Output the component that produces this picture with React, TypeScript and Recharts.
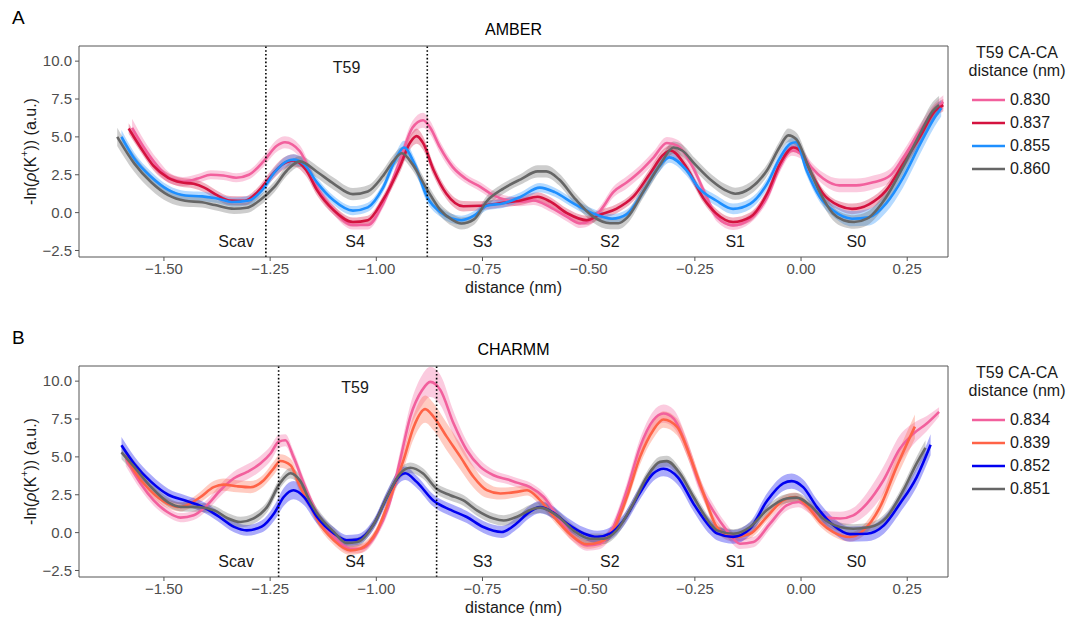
import React from "react";
import {
  Area,
  ComposedChart,
  Line,
  ReferenceDot,
  ReferenceLine,
  XAxis,
  YAxis,
} from "recharts";

const FONT = '"Liberation Sans", Arial, Helvetica, sans-serif';

// -------------------------
// axes / annotations
// -------------------------
const X_TICKS = [-1.5, -1.25, -1, -0.75, -0.5, -0.25, 0, 0.25];
const Y_TICKS = [-2.5, 0, 2.5, 5, 7.5, 10];
const X_DOMAIN: [number, number] = [-1.7, 0.346];
const Y_DOMAIN: [number, number] = [-2.93, 11];

const SITE_LABELS = ["Scav", "S4", "S3", "S2", "S1", "S0"];
const SITE_X = [-1.33, -1.05, -0.75, -0.45, -0.155, 0.13];
const SITE_Y = -1.88;

const AMBER_CUTS = [-1.26, -0.88];
const CHARMM_CUTS = [-1.23, -0.858];
const AMBER_T59 = [-1.07, 9.6];
const CHARMM_T59 = [-1.05, 9.6];

const AMBER_LABELS = ["0.830", "0.837", "0.855", "0.860"];
const CHARMM_LABELS = ["0.834", "0.839", "0.852", "0.851"];

// -------------------------
// AMBER curves (x, mean, half-width of band)
// -------------------------
const amberPinkX = [-1.575, -1.547, -1.516, -1.485, -1.455, -1.42, -1.39, -1.36, -1.33, -1.3, -1.265, -1.235, -1.215, -1.18, -1.14, -1.1, -1.055, -1.02, -0.985, -0.945, -0.915, -0.89, -0.873, -0.85, -0.82, -0.79, -0.755, -0.725, -0.69, -0.66, -0.63, -0.59, -0.55, -0.52, -0.495, -0.472, -0.442, -0.41, -0.38, -0.347, -0.316, -0.29, -0.255, -0.225, -0.198, -0.16, -0.12, -0.08, -0.05, -0.022, 0, 0.024, 0.052, 0.09, 0.13, 0.17, 0.21, 0.24, 0.28, 0.315, 0.335];
const amberPinkY = [5.6, 4.3, 3.1, 2.25, 2.05, 2.25, 2.5, 2.45, 2.3, 2.5, 3.4, 4.4, 4.65, 4.05, 1.7, 0.15, -0.82, -0.82, 0.55, 3.4, 5.6, 6.1, 5.6, 4.3, 3.0, 2.25, 1.7, 1.15, 0.8, 0.72, 0.8, 0.35, -0.3, -0.72, -0.5, 0.15, 1.35, 2.0, 2.7, 3.65, 4.6, 4.4, 3.0, 1.2, -0.3, -0.84, -0.4, 1.0, 3.0, 4.1, 3.9, 3.0, 2.25, 1.8, 1.8, 2.0, 2.45, 3.6, 5.4, 6.8, 7.3];
const amberPinkE = [0.6, 0.5, 0.45, 0.35, 0.3, 0.3, 0.3, 0.3, 0.3, 0.3, 0.35, 0.4, 0.4, 0.4, 0.35, 0.3, 0.3, 0.3, 0.3, 0.4, 0.45, 0.5, 0.45, 0.4, 0.35, 0.3, 0.3, 0.3, 0.3, 0.3, 0.3, 0.3, 0.3, 0.3, 0.3, 0.3, 0.35, 0.4, 0.4, 0.4, 0.4, 0.4, 0.35, 0.3, 0.3, 0.3, 0.3, 0.3, 0.35, 0.35, 0.35, 0.35, 0.4, 0.45, 0.45, 0.45, 0.45, 0.45, 0.45, 0.45, 0.45];

const amberRedX = [-1.583, -1.555, -1.525, -1.49, -1.46, -1.43, -1.405, -1.375, -1.345, -1.31, -1.28, -1.25, -1.22, -1.195, -1.165, -1.14, -1.1, -1.055, -1.02, -0.985, -0.945, -0.92, -0.905, -0.89, -0.865, -0.835, -0.795, -0.755, -0.71, -0.66, -0.62, -0.59, -0.55, -0.505, -0.475, -0.435, -0.395, -0.355, -0.325, -0.308, -0.27, -0.23, -0.2, -0.16, -0.12, -0.08, -0.05, -0.018, 0, 0.024, 0.052, 0.09, 0.12, 0.16, 0.2, 0.24, 0.28, 0.315, 0.335];
const amberRedY = [5.55, 4.3, 3.1, 2.3, 2.0, 1.9, 1.65, 1.15, 0.8, 0.78, 1.35, 2.35, 3.2, 3.45, 2.8, 1.5, 0.15, -0.62, -0.5, 0.8, 3.0, 4.65, 5.05, 4.6, 2.8, 1.25, 0.42, 0.45, 0.62, 0.8, 1.05, 0.72, -0.05, -0.5, -0.15, 0.25, 1.05, 2.6, 3.8, 4.1, 3.0, 0.95, -0.05, -0.62, -0.3, 1.25, 3.2, 4.3, 4.0, 2.6, 1.25, 0.45, 0.25, 0.55, 1.45, 3.2, 5.0, 6.7, 7.1];
const amberRedE = [0.35, 0.3, 0.3, 0.3, 0.3, 0.3, 0.3, 0.3, 0.3, 0.3, 0.3, 0.35, 0.4, 0.4, 0.4, 0.35, 0.3, 0.3, 0.3, 0.3, 0.4, 0.45, 0.5, 0.45, 0.4, 0.35, 0.35, 0.3, 0.3, 0.3, 0.3, 0.3, 0.3, 0.3, 0.3, 0.3, 0.3, 0.35, 0.35, 0.35, 0.35, 0.3, 0.3, 0.3, 0.3, 0.3, 0.3, 0.3, 0.3, 0.3, 0.3, 0.3, 0.35, 0.35, 0.35, 0.35, 0.4, 0.4, 0.4];

const amberBlueX = [-1.6, -1.57, -1.53, -1.49, -1.45, -1.41, -1.375, -1.34, -1.3, -1.27, -1.24, -1.21, -1.195, -1.17, -1.14, -1.1, -1.055, -1.02, -0.985, -0.955, -0.935, -0.91, -0.88, -0.85, -0.8, -0.77, -0.74, -0.7, -0.66, -0.615, -0.58, -0.535, -0.49, -0.445, -0.41, -0.37, -0.335, -0.31, -0.27, -0.24, -0.2, -0.16, -0.12, -0.08, -0.05, -0.025, -0.012, 0.013, 0.045, 0.075, 0.12, 0.16, 0.2, 0.24, 0.28, 0.315, 0.33];
const amberBlueY = [5.0, 3.57, 2.35, 1.5, 1.13, 1.07, 0.93, 0.7, 0.8, 1.45, 2.65, 3.4, 3.5, 3.2, 2.0, 0.8, 0.13, 0.35, 1.6, 3.5, 4.3, 3.2, 1.0, 0.05, -0.5, -0.2, 0.45, 0.62, 1.05, 1.65, 1.35, 0.6, -0.05, -0.4, -0.1, 1.45, 3.0, 3.65, 2.8, 1.6, 0.8, 0.25, 0.58, 1.9, 3.6, 4.55, 4.65, 2.8, 1.0, 0.15, -0.4, -0.3, 0.6, 2.3, 4.5, 6.3, 6.9];
const amberBlueE = [0.45, 0.4, 0.35, 0.3, 0.3, 0.3, 0.3, 0.3, 0.3, 0.3, 0.3, 0.35, 0.35, 0.35, 0.3, 0.3, 0.3, 0.3, 0.3, 0.4, 0.45, 0.4, 0.35, 0.3, 0.3, 0.3, 0.3, 0.3, 0.3, 0.3, 0.3, 0.3, 0.3, 0.3, 0.3, 0.3, 0.35, 0.35, 0.35, 0.3, 0.35, 0.35, 0.35, 0.35, 0.35, 0.35, 0.35, 0.35, 0.35, 0.4, 0.5, 0.55, 0.6, 0.65, 0.65, 0.6, 0.55];

const amberGrayX = [-1.61, -1.57, -1.53, -1.49, -1.45, -1.41, -1.38, -1.335, -1.305, -1.275, -1.24, -1.21, -1.18, -1.14, -1.1, -1.055, -1.02, -0.985, -0.96, -0.94, -0.915, -0.88, -0.85, -0.82, -0.8, -0.77, -0.74, -0.7, -0.66, -0.62, -0.6, -0.57, -0.53, -0.49, -0.45, -0.43, -0.41, -0.37, -0.33, -0.3, -0.28, -0.25, -0.21, -0.18, -0.155, -0.12, -0.08, -0.05, -0.03, -0.01, 0.015, 0.045, 0.075, 0.1, 0.125, 0.155, 0.2, 0.24, 0.28, 0.31, 0.325];
const amberGrayY = [5.0, 3.25, 2.0, 1.15, 0.78, 0.68, 0.5, 0.26, 0.32, 0.8, 1.7, 2.8, 3.38, 2.7, 1.9, 1.22, 1.4, 2.4, 3.4, 3.92, 3.2, 1.5, 0.2, -0.5, -0.72, -0.45, 0.75, 1.6, 2.2, 2.72, 2.72, 2.2, 0.85, -0.25, -0.7, -0.7, -0.35, 1.45, 3.25, 4.3, 4.1, 3.2, 2.1, 1.5, 1.25, 1.6, 2.8, 4.35, 5.1, 4.8, 3.2, 1.3, -0.05, -0.5, -0.62, -0.4, 1.0, 3.0, 5.2, 6.7, 7.1];
const amberGrayE = [0.6, 0.55, 0.5, 0.45, 0.4, 0.35, 0.35, 0.35, 0.35, 0.35, 0.35, 0.35, 0.35, 0.4, 0.4, 0.4, 0.4, 0.4, 0.4, 0.4, 0.4, 0.4, 0.4, 0.4, 0.4, 0.35, 0.35, 0.35, 0.35, 0.4, 0.4, 0.4, 0.4, 0.4, 0.4, 0.4, 0.4, 0.4, 0.4, 0.4, 0.4, 0.4, 0.4, 0.4, 0.4, 0.4, 0.4, 0.4, 0.45, 0.45, 0.45, 0.45, 0.45, 0.45, 0.45, 0.45, 0.45, 0.5, 0.55, 0.6, 0.6];

// -------------------------
// CHARMM curves
// -------------------------
const charmmPinkX = [-1.59, -1.555, -1.524, -1.492, -1.461, -1.43, -1.399, -1.367, -1.336, -1.304, -1.273, -1.249, -1.23, -1.214, -1.195, -1.17, -1.14, -1.1, -1.061, -1.038, -0.998, -0.967, -0.944, -0.92, -0.892, -0.873, -0.849, -0.818, -0.787, -0.755, -0.724, -0.69, -0.669, -0.638, -0.606, -0.567, -0.536, -0.504, -0.473, -0.442, -0.41, -0.379, -0.348, -0.324, -0.3, -0.269, -0.238, -0.206, -0.175, -0.144, -0.112, -0.073, -0.034, -0.006, 0.021, 0.052, 0.092, 0.123, 0.155, 0.194, 0.233, 0.265, 0.296, 0.325];
const charmmPinkY = [4.9, 3.24, 2.13, 1.36, 0.99, 1.14, 1.8, 2.8, 3.57, 4.01, 4.56, 5.22, 6.0, 6.1, 5.0, 3.2, 1.3, -0.29, -1.06, -1.06, 0.04, 2.13, 4.78, 7.64, 9.41, 9.95, 9.41, 7.2, 5.44, 4.34, 3.79, 3.5, 3.3, 3.01, 2.35, 0.81, -0.29, -0.84, -0.73, 0.37, 2.8, 5.66, 7.42, 7.86, 7.53, 5.66, 3.1, 1.4, 0.15, -0.73, -0.62, 0.59, 1.8, 2.02, 1.59, 1.03, 0.93, 1.14, 1.92, 3.46, 5.55, 6.54, 7.2, 7.97];
const charmmPinkE = [0.5, 0.4, 0.35, 0.3, 0.3, 0.3, 0.35, 0.4, 0.45, 0.5, 0.5, 0.5, 0.45, 0.4, 0.4, 0.35, 0.3, 0.3, 0.3, 0.3, 0.3, 0.4, 0.6, 0.8, 1.0, 1.0, 1.0, 0.8, 0.6, 0.45, 0.35, 0.3, 0.3, 0.3, 0.3, 0.35, 0.35, 0.35, 0.35, 0.4, 0.5, 0.55, 0.6, 0.6, 0.6, 0.55, 0.5, 0.45, 0.4, 0.35, 0.35, 0.35, 0.35, 0.35, 0.35, 0.4, 0.45, 0.5, 0.7, 0.9, 0.9, 0.7, 0.5, 0.3];

const charmmTomatoX = [-1.591, -1.571, -1.533, -1.492, -1.461, -1.438, -1.414, -1.383, -1.359, -1.328, -1.296, -1.265, -1.242, -1.226, -1.202, -1.179, -1.155, -1.14, -1.1, -1.061, -1.038, -0.998, -0.967, -0.936, -0.912, -0.885, -0.865, -0.834, -0.802, -0.771, -0.74, -0.708, -0.669, -0.645, -0.614, -0.575, -0.536, -0.504, -0.473, -0.442, -0.41, -0.379, -0.348, -0.324, -0.292, -0.261, -0.23, -0.198, -0.159, -0.12, -0.081, -0.042, -0.014, 0.013, 0.045, 0.076, 0.115, 0.147, 0.186, 0.225, 0.268];
const charmmTomatoY = [5.1, 4.12, 2.8, 1.92, 1.69, 1.92, 2.35, 3.0, 3.17, 3.06, 3.0, 3.46, 4.23, 4.73, 4.45, 3.0, 1.8, 0.9, -0.51, -1.17, -1.06, 0.15, 2.35, 4.78, 6.98, 8.15, 7.64, 6.32, 5.0, 3.67, 2.8, 2.58, 2.69, 2.8, 2.13, 0.81, -0.29, -0.77, -0.62, 0.15, 2.35, 5.0, 6.76, 7.47, 6.98, 5.0, 2.6, 0.37, -0.29, -0.07, 1.03, 2.13, 2.35, 1.8, 0.7, 0.04, -0.29, 0.15, 1.69, 4.34, 7.0];
const charmmTomatoE = [0.4, 0.35, 0.3, 0.3, 0.3, 0.3, 0.35, 0.4, 0.4, 0.4, 0.4, 0.4, 0.45, 0.45, 0.45, 0.4, 0.35, 0.3, 0.3, 0.3, 0.3, 0.3, 0.4, 0.6, 0.8, 0.9, 0.9, 0.9, 0.85, 0.7, 0.5, 0.4, 0.35, 0.35, 0.35, 0.3, 0.3, 0.3, 0.3, 0.3, 0.4, 0.5, 0.55, 0.55, 0.55, 0.5, 0.4, 0.35, 0.3, 0.3, 0.3, 0.3, 0.3, 0.3, 0.3, 0.3, 0.3, 0.35, 0.5, 0.7, 0.8];

const charmmBlueX = [-1.6, -1.57, -1.53, -1.49, -1.45, -1.41, -1.375, -1.335, -1.305, -1.27, -1.24, -1.218, -1.195, -1.17, -1.14, -1.1, -1.07, -1.045, -1.005, -0.975, -0.945, -0.932, -0.905, -0.865, -0.825, -0.787, -0.748, -0.705, -0.67, -0.64, -0.615, -0.585, -0.55, -0.51, -0.48, -0.45, -0.418, -0.38, -0.348, -0.324, -0.29, -0.253, -0.214, -0.198, -0.16, -0.12, -0.08, -0.042, -0.022, 0.005, 0.037, 0.076, 0.115, 0.155, 0.195, 0.233, 0.272, 0.305];
const charmmBlueY = [5.77, 4.55, 3.35, 2.5, 2.12, 1.72, 1.14, 0.38, 0.15, 0.4, 1.3, 2.35, 2.8, 2.35, 1.05, -0.05, -0.5, -0.46, 0.6, 2.35, 3.75, 3.92, 3.35, 2.1, 1.5, 1.03, 0.37, 0.04, 0.6, 1.35, 1.68, 1.35, 0.58, -0.07, -0.28, -0.07, 0.8, 2.6, 3.9, 4.22, 3.65, 1.9, 0.37, -0.05, -0.28, 0.26, 2.1, 3.25, 3.4, 3.0, 1.7, 0.48, -0.1, -0.07, 0.48, 1.92, 3.65, 5.8];
const charmmBlueE = [0.55, 0.5, 0.45, 0.4, 0.35, 0.35, 0.35, 0.35, 0.35, 0.4, 0.5, 0.6, 0.6, 0.55, 0.45, 0.4, 0.35, 0.35, 0.35, 0.4, 0.45, 0.45, 0.4, 0.4, 0.4, 0.4, 0.4, 0.4, 0.4, 0.4, 0.4, 0.4, 0.4, 0.4, 0.4, 0.4, 0.4, 0.45, 0.5, 0.5, 0.5, 0.5, 0.5, 0.45, 0.45, 0.45, 0.5, 0.5, 0.5, 0.5, 0.5, 0.5, 0.5, 0.5, 0.55, 0.6, 0.65, 0.7];

const charmmGrayX = [-1.6, -1.57, -1.53, -1.49, -1.46, -1.42, -1.38, -1.35, -1.32, -1.29, -1.257, -1.226, -1.202, -1.18, -1.155, -1.14, -1.1, -1.07, -1.045, -1.005, -0.975, -0.944, -0.92, -0.89, -0.858, -0.826, -0.795, -0.763, -0.724, -0.7, -0.67, -0.63, -0.614, -0.575, -0.536, -0.496, -0.465, -0.434, -0.395, -0.363, -0.332, -0.316, -0.285, -0.253, -0.214, -0.198, -0.159, -0.12, -0.081, -0.034, -0.01, 0.021, 0.052, 0.092, 0.123, 0.162, 0.202, 0.241, 0.272, 0.293];
const charmmGrayY = [5.3, 4.34, 3.0, 2.0, 1.7, 1.68, 1.45, 0.95, 0.7, 0.92, 1.7, 3.3, 3.92, 3.45, 2.0, 1.3, 0.05, -0.68, -0.62, 0.6, 2.35, 3.9, 4.28, 3.9, 2.9, 2.47, 2.13, 1.47, 0.93, 0.8, 1.03, 1.58, 1.65, 1.14, 0.15, -0.4, -0.4, 0.15, 1.92, 3.67, 4.67, 4.72, 3.9, 2.35, 0.6, 0.15, -0.07, 0.37, 1.47, 2.25, 2.31, 1.8, 0.93, 0.37, 0.26, 0.37, 1.03, 2.8, 4.56, 5.6];
const charmmGrayE = [0.45, 0.4, 0.35, 0.3, 0.3, 0.3, 0.3, 0.35, 0.35, 0.35, 0.35, 0.35, 0.35, 0.35, 0.35, 0.35, 0.3, 0.3, 0.3, 0.3, 0.35, 0.35, 0.35, 0.35, 0.35, 0.35, 0.35, 0.35, 0.35, 0.35, 0.35, 0.35, 0.35, 0.35, 0.35, 0.35, 0.35, 0.35, 0.35, 0.35, 0.35, 0.35, 0.35, 0.35, 0.35, 0.3, 0.3, 0.3, 0.3, 0.3, 0.3, 0.3, 0.3, 0.3, 0.3, 0.3, 0.35, 0.4, 0.45, 0.5];

type Series = {
  label: string;
  color: string;
  xs: number[];
  ys: number[];
  es: number[];
};

const amberSeries: Series[] = [
  { label: AMBER_LABELS[0], color: "#F2609D", xs: amberPinkX, ys: amberPinkY, es: amberPinkE },
  { label: AMBER_LABELS[1], color: "#D4123F", xs: amberRedX, ys: amberRedY, es: amberRedE },
  { label: AMBER_LABELS[2], color: "#1E8FFF", xs: amberBlueX, ys: amberBlueY, es: amberBlueE },
  { label: AMBER_LABELS[3], color: "#666666", xs: amberGrayX, ys: amberGrayY, es: amberGrayE },
];

const charmmSeries: Series[] = [
  { label: CHARMM_LABELS[0], color: "#F2609D", xs: charmmPinkX, ys: charmmPinkY, es: charmmPinkE },
  { label: CHARMM_LABELS[1], color: "#FF6347", xs: charmmTomatoX, ys: charmmTomatoY, es: charmmTomatoE },
  { label: CHARMM_LABELS[2], color: "#0000F0", xs: charmmBlueX, ys: charmmBlueY, es: charmmBlueE },
  { label: CHARMM_LABELS[3], color: "#666666", xs: charmmGrayX, ys: charmmGrayY, es: charmmGrayE },
];

function rows(s: Series) {
  return s.xs.map((x, i) => ({
    x,
    y: s.ys[i],
    band: [s.ys[i] - s.es[i], s.ys[i] + s.es[i]],
  }));
}

const fmt = (v: number, d: number) => v.toFixed(d).replace("-", "\u2212");

// -------------------------
// y axis title with italic rho + superscript
// -------------------------
function YTitle(props: any) {
  const vb = props.viewBox ?? { x: 0, y: 46, width: 79, height: 211 };
  const cx = vb.x + 30;
  const cy = vb.y + vb.height / 2;
  return (
    <text
      x={cx}
      y={cy}
      transform={`rotate(-90 ${cx} ${cy})`}
      textAnchor="middle"
      dominantBaseline="central"
      fontSize={16}
      fill="#1a1a1a"
    >
      -ln(
      <tspan fontStyle="italic">ρ</tspan>
      (K
      <tspan dy={-6} fontSize={10.5}>
        +
      </tspan>
      <tspan dy={6}>)) (a.u.)</tspan>
    </text>
  );
}

const textShape = (value: string) => (p: any) =>
  (
    <text
      x={p.cx}
      y={p.cy}
      textAnchor="middle"
      dominantBaseline="central"
      fontSize={16}
      fill="#1a1a1a"
    >
      {value}
    </text>
  );

function Panel({
  top,
  letter,
  title,
  series,
  cuts,
  t59,
}: {
  top: number;
  letter: string;
  title: string;
  series: Series[];
  cuts: number[];
  t59: number[];
}) {
  return (
    <div style={{ position: "absolute", left: 0, top, width: 1070, height: 299 }}>
      <div style={{ position: "absolute", left: 12, top: 7, fontSize: 19, lineHeight: "22px" }}>
        {letter}
      </div>
      <div
        style={{
          position: "absolute",
          left: 79,
          width: 869,
          top: 20,
          textAlign: "center",
          fontSize: 16,
          lineHeight: "20px",
        }}
      >
        {title}
      </div>

      <ComposedChart width={1070} height={299} margin={{ top: 46, right: 122, bottom: 0, left: 0 }}>
        <XAxis
          type="number"
          dataKey="x"
          domain={X_DOMAIN}
          ticks={X_TICKS}
          interval={0}
          tickFormatter={(v: number) => fmt(v, 2)}
          height={42}
          tickSize={4}
          tickMargin={2}
          axisLine={{ stroke: "#555" }}
          tickLine={{ stroke: "#555" }}
          tick={{ fontSize: 15, fill: "#4D4D4D" }}
          label={{ value: "distance (nm)", position: "insideBottom", offset: 6, fill: "#1a1a1a", fontSize: 16 }}
        />
        <YAxis
          type="number"
          domain={Y_DOMAIN}
          ticks={Y_TICKS}
          interval={0}
          tickFormatter={(v: number) => fmt(v, 1)}
          width={79}
          tickSize={4}
          tickMargin={3}
          axisLine={{ stroke: "#555" }}
          tickLine={{ stroke: "#555" }}
          tick={{ fontSize: 15, fill: "#4D4D4D" }}
          label={<YTitle />}
        />

        {series.map((s) => (
          <Area
            key={"band" + s.label}
            data={rows(s)}
            dataKey="band"
            type="monotone"
            stroke="none"
            fill={s.color}
            fillOpacity={0.33}
            isAnimationActive={false}
          />
        ))}
        {series.map((s) => (
          <Line
            key={"line" + s.label}
            data={rows(s)}
            dataKey="y"
            type="monotone"
            stroke={s.color}
            strokeWidth={2.6}
            dot={false}
            activeDot={false}
            isAnimationActive={false}
          />
        ))}

        {/* panel box: top and right edges */}
        <ReferenceLine y={Y_DOMAIN[1]} stroke="#555" strokeWidth={1} ifOverflow="extendDomain" />
        <ReferenceLine x={X_DOMAIN[1]} stroke="#555" strokeWidth={1} ifOverflow="extendDomain" />

        {cuts.map((c) => (
          <ReferenceLine key={c} x={c} stroke="#000" strokeWidth={1.6} strokeDasharray="1.6 2.2" />
        ))}
        {SITE_LABELS.map((s, i) => (
          <ReferenceDot key={s} x={SITE_X[i]} y={SITE_Y} r={0} shape={textShape(s)} />
        ))}
        <ReferenceDot x={t59[0]} y={t59[1]} r={0} shape={textShape("T59")} />
      </ComposedChart>

      {/* legend */}
      <div
        style={{
          position: "absolute",
          left: 960,
          top: 44,
          width: 114,
          textAlign: "center",
          fontSize: 16,
          lineHeight: "18px",
          color: "#1a1a1a",
        }}
      >
        T59 CA-CA
        <br />
        distance (nm)
      </div>
      {series.map((s, i) => (
        <div
          key={"leg" + s.label}
          style={{ position: "absolute", left: 972, top: 90 + i * 23, height: 20, width: 100 }}
        >
          <svg width={34} height={20} style={{ position: "absolute", left: 0, top: 0 }}>
            <line x1={0} x2={33} y1={10} y2={10} stroke={s.color} strokeWidth={2.6} />
          </svg>
          <div style={{ position: "absolute", left: 38, top: 0, fontSize: 16, lineHeight: "20px", color: "#1a1a1a" }}>
            {s.label}
          </div>
        </div>
      ))}
    </div>
  );
}

export default function App() {
  return (
    <div
      style={{
        position: "absolute",
        left: 0,
        top: 0,
        width: 1070,
        height: 619,
        background: "#fff",
        fontFamily: FONT,
        color: "#000",
        overflow: "hidden",
      }}
    >
      <Panel top={0} letter="A" title="AMBER" series={amberSeries} cuts={AMBER_CUTS} t59={AMBER_T59} />
      <Panel top={320} letter="B" title="CHARMM" series={charmmSeries} cuts={CHARMM_CUTS} t59={CHARMM_T59} />
    </div>
  );
}
